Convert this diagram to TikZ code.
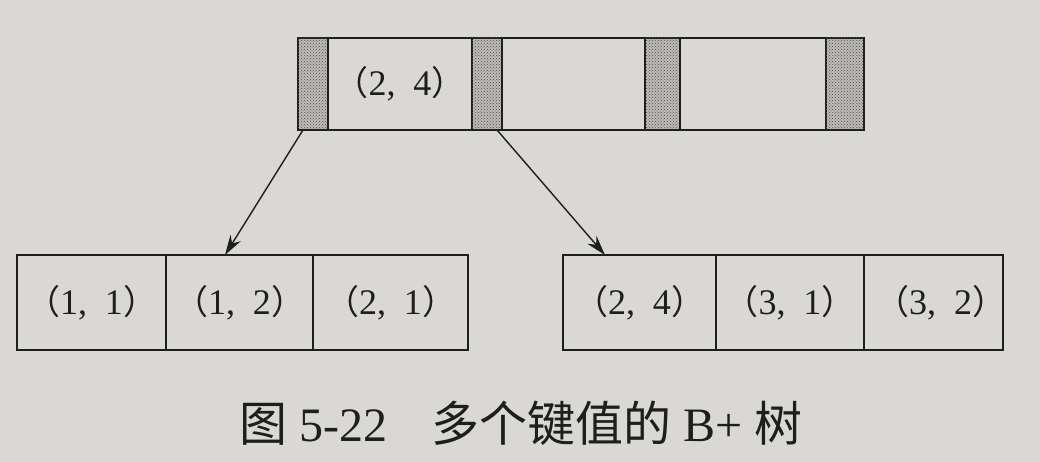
\documentclass[tikz,border=0pt]{standalone}
\usepackage{fontspec}
\setmainfont{Liberation Serif}
\newfontfamily\cjk{Noto Sans CJK SC}
\usetikzlibrary{arrows.meta,patterns}
\definecolor{paper}{RGB}{218,216,212}
\definecolor{ptrfill}{RGB}{190,188,186}
\definecolor{ink}{RGB}{30,30,30}
\tikzset{
  cellbox/.style={draw=ink, line width=1.6pt, rectangle, inner sep=0pt, outer sep=0pt,
    minimum height=#1, font=\fontsize{36}{40}\selectfont, text=ink},
  ptrbox/.style={cellbox=92pt, fill=ptrfill,
    postaction={pattern=crosshatch dots, pattern color=ink!80}},
  link/.style={draw=ink, line width=1.4pt, -{Stealth[length=20pt,width=12pt]}}
}
\newcommand{\kv}[2]{{\cjk\fontsize{34}{40}\selectfont （}#1,\enspace#2{\cjk\fontsize{34}{40}\selectfont ）}}
\begin{document}
\begin{tikzpicture}[x=1pt,y=-1pt]
\fill[paper] (0,0) rectangle (1040,462);
\useasboundingbox (0,0) rectangle (1040,462);
% top node
\node[ptrbox, minimum width=30pt] (p1) at (313,84) {};
\node[cellbox=92pt, minimum width=144pt] (k1) at (400,84) {\kv{2}{4}};
\node[ptrbox, minimum width=30pt] (p2) at (487,84) {};
\node[cellbox=92pt, minimum width=143pt] (k2) at (573.5,84) {};
\node[ptrbox, minimum width=35pt] (p3) at (662.5,84) {};
\node[cellbox=92pt, minimum width=146pt] (k3) at (753,84) {};
\node[ptrbox, minimum width=38pt] (p4) at (845,84) {};
% left leaf
\node[cellbox=95pt, minimum width=149pt] (a1) at (91.5,302.5) {\kv{1}{1}};
\node[cellbox=95pt, minimum width=147pt] (a2) at (239.5,302.5) {\kv{1}{2}};
\node[cellbox=95pt, minimum width=155pt] (a3) at (390.5,302.5) {\kv{2}{1}};
% right leaf
\node[cellbox=95pt, minimum width=153pt] (b1) at (639.5,302.5) {\kv{2}{4}};
\node[cellbox=95pt, minimum width=148pt] (b2) at (790,302.5) {\kv{3}{1}};
\node[cellbox=95pt, minimum width=139pt] (b3) at (933.5,302.5) {\makebox[120pt]{\hspace{14pt}\kv{3}{2}}};
% connectors
\draw[link] ([xshift=5pt]p1.south west) -- ([xshift=59pt]a2.north west);
\draw[link] ([xshift=25pt]p2.south west) -- ([xshift=42pt]b1.north west);
% caption
\node[font=\fontsize{48}{52}\selectfont, text=ink, inner sep=0pt] (cap) at (521,423)
  {{\cjk 图}\ 5-22\hspace{0.9em}{\cjk 多个键值的}\ B+\ {\cjk 树}};
\end{tikzpicture}
\end{document}
